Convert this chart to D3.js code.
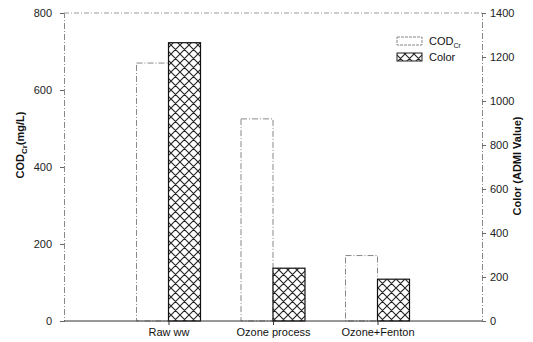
<!DOCTYPE html>
<html><head><meta charset="utf-8">
<script src="https://cdn.jsdelivr.net/npm/d3@7"></script>
<style>body{margin:0;background:#fff}svg{display:block}text{font-family:"Liberation Sans",Arial,sans-serif}</style>
</head><body>
<script>
const categories = ["Raw ww", "Ozone process", "Ozone+Fenton"];
const codValues = [670, 525, 170];
const colorValues = [1265, 240, 190];
const leftTicks = [0, 200, 400, 600, 800];
const rightTicks = [0, 200, 400, 600, 800, 1000, 1200, 1400];

const W = 533, H = 342;
const m = {l: 64, r: 482, t: 13, b: 321};
const svg = d3.select("body").append("svg").attr("width", W).attr("height", H);

const defs = svg.append("defs");
const pat = defs.append("pattern").attr("id", "hatch").attr("patternUnits", "userSpaceOnUse")
  .attr("width", 9).attr("height", 9).attr("x", 0).attr("y", 0);
pat.append("rect").attr("width", 9).attr("height", 9).attr("fill", "#fff");
pat.append("path").attr("d", "M0,0L9,9M9,0L0,9M-1,8L1,10M8,-1L10,1M-1,1L1,-1M8,10L10,8")
  .attr("stroke", "#222").attr("stroke-width", 1.1);

const x = d3.scaleLinear().domain([0, 4]).range([m.l, m.r]);
const yL = d3.scaleLinear().domain([0, 800]).range([m.b, m.t]);
const yR = d3.scaleLinear().domain([0, 1400]).range([m.b, m.t]);
const bw = 32;

// frame
svg.append("line").attr("x1", m.l).attr("x2", m.r).attr("y1", m.t).attr("y2", m.t)
  .attr("stroke", "#999").attr("stroke-dasharray", "5,2,1,2");

// bars
const g = svg.append("g");
g.selectAll(".cod").data(codValues).join("rect")
  .attr("x", (d, i) => x(i + 1) - bw).attr("width", bw)
  .attr("y", d => yL(d)).attr("height", d => yL(0) - yL(d))
  .attr("fill", "#fff").attr("stroke", "#888").attr("stroke-width", 1).attr("stroke-dasharray", "6,2,1,2");
g.selectAll(".col").data(colorValues).join("rect")
  .attr("x", (d, i) => x(i + 1)).attr("width", bw)
  .attr("y", d => yR(d)).attr("height", d => yR(0) - yR(d))
  .attr("fill", "url(#hatch)").attr("stroke", "#111").attr("stroke-width", 1.2);

// axes
const axL = svg.append("g").attr("transform", `translate(${m.l},0)`)
  .call(d3.axisLeft(yL).tickValues(leftTicks).tickSize(4).tickPadding(8).tickFormat(d3.format("d")));
const axR = svg.append("g").attr("transform", `translate(${m.r},0)`)
  .call(d3.axisRight(yR).tickValues(rightTicks).tickSize(4).tickPadding(4).tickFormat(d3.format("d")));
const axB = svg.append("g").attr("transform", `translate(0,${m.b})`)
  .call(d3.axisBottom(x).tickValues([1, 2, 3]).tickFormat((d) => categories[d - 1]).tickSize(4).tickPadding(3));
[axL, axR].forEach(a => {
  a.select(".domain").attr("stroke", "#888").attr("stroke-dasharray", "6,2,1,2");
  a.selectAll(".tick line").attr("stroke", "#666");
  a.selectAll("text").attr("font-size", 11).attr("fill", "#222");
});
axB.select(".domain").attr("stroke", "#333").attr("d", `M${m.l},0H${m.r}`);
axB.selectAll(".tick line").attr("stroke", "#333");
axB.selectAll("text").attr("font-size", 11).attr("fill", "#111");

// axis titles
const lt = svg.append("text").attr("transform", "translate(24,145) rotate(-90)")
  .attr("text-anchor", "middle").attr("font-size", 11).attr("font-weight", "bold").attr("fill", "#111");
lt.append("tspan").text("COD");
lt.append("tspan").text("Cr").attr("font-size", 8).attr("dy", 3);
lt.append("tspan").text("(mg/L)").attr("dy", -3);

svg.append("text").attr("transform", "translate(521,166) rotate(-90)")
  .attr("text-anchor", "middle").attr("font-size", 11).attr("font-weight", "bold").attr("fill", "#111")
  .text("Color (ADMI Value)");

// legend
const lg = svg.append("g");
lg.append("rect").attr("x", 397).attr("y", 37).attr("width", 25).attr("height", 8)
  .attr("fill", "#fff").attr("stroke", "#888").attr("stroke-dasharray", "3,1");
lg.append("rect").attr("x", 397).attr("y", 53).attr("width", 25).attr("height", 8)
  .attr("fill", "url(#hatch)").attr("stroke", "#222");
const t1 = lg.append("text").attr("x", 429).attr("y", 45).attr("font-size", 11).attr("fill", "#111");
t1.append("tspan").text("COD");
t1.append("tspan").text("Cr").attr("font-size", 7).attr("dy", 3);
lg.append("text").attr("x", 429).attr("y", 61).attr("font-size", 11).attr("fill", "#111").text("Color");
</script>
</body></html>
